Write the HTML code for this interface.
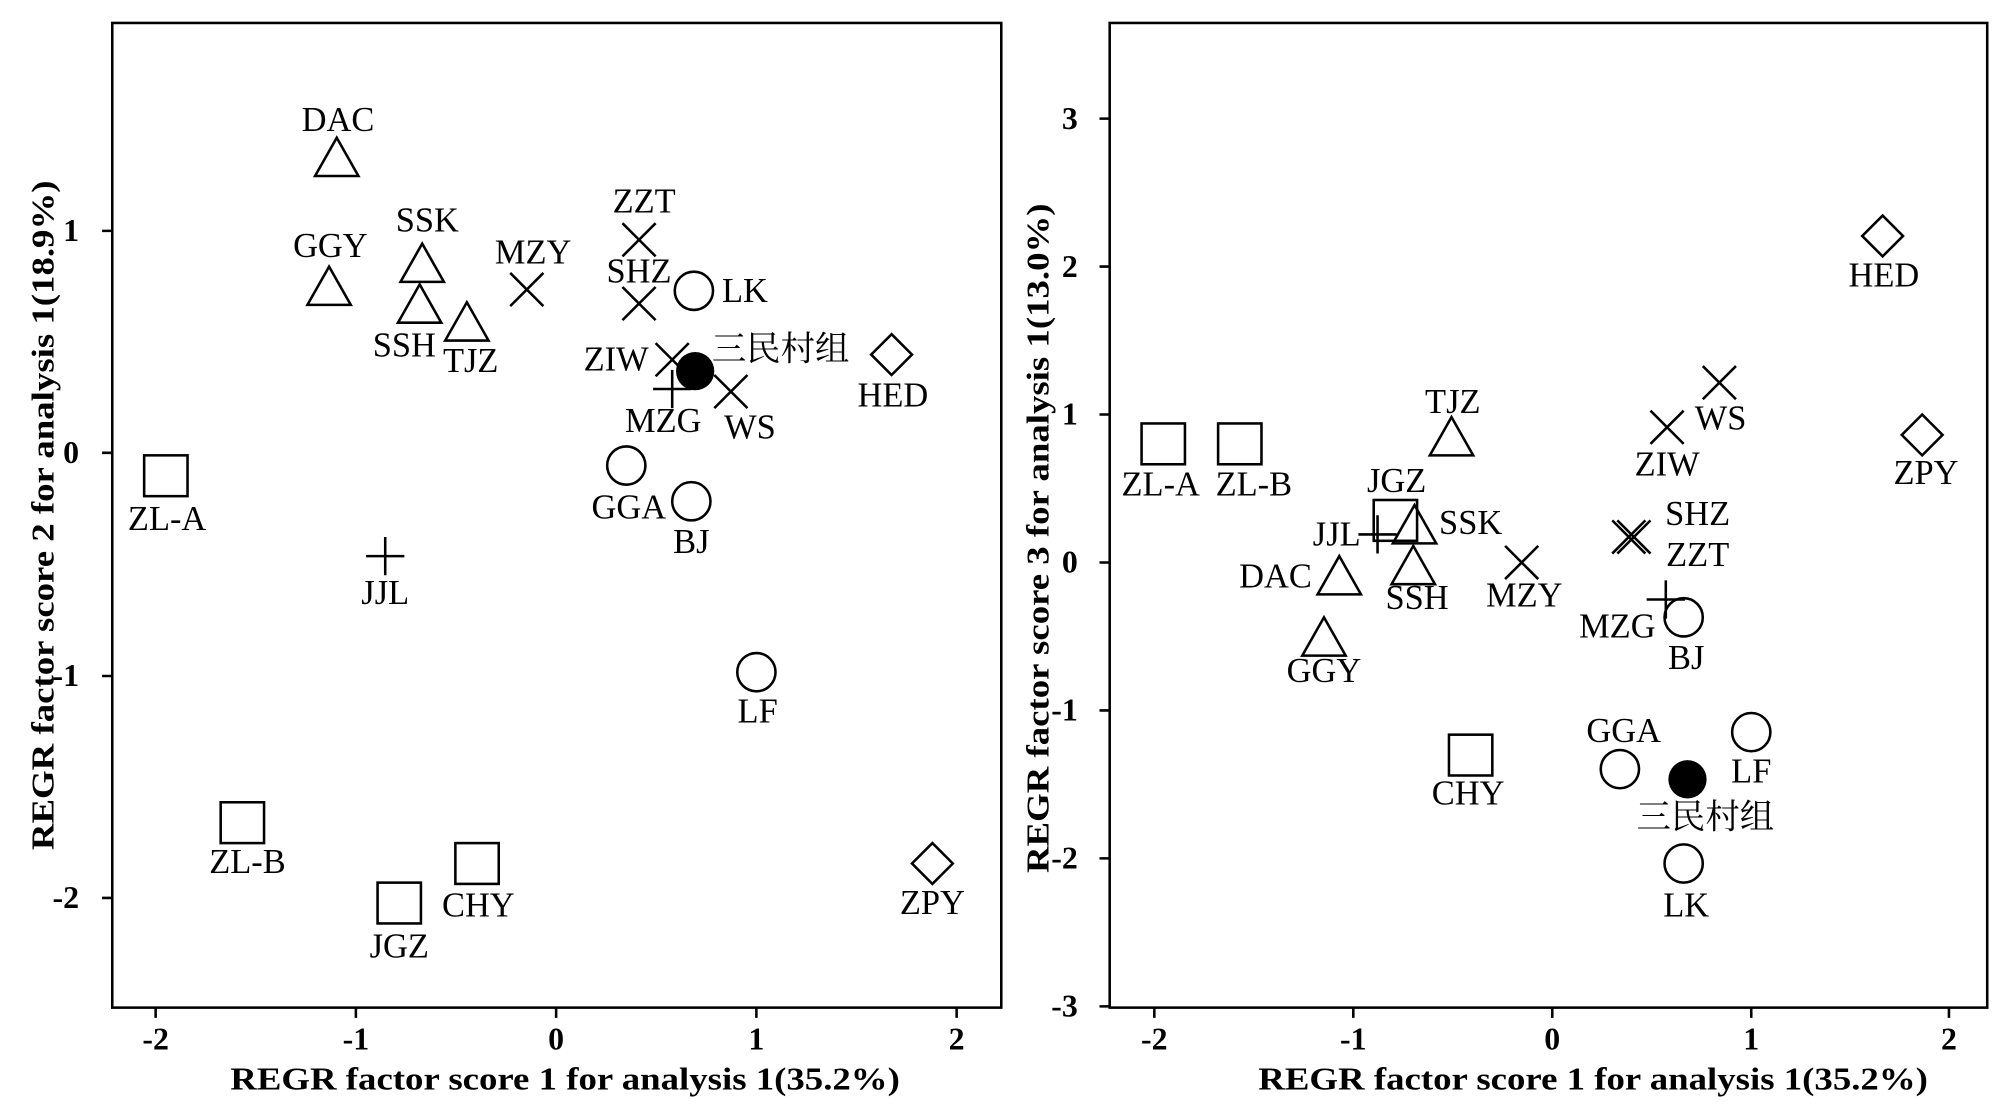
<!DOCTYPE html>
<html><head><meta charset="utf-8"><style>
html,body{margin:0;padding:0;background:#fff;overflow:hidden}
svg{display:block}
text{font-family:"Liberation Serif","Noto Serif CJK SC",serif;fill:#000}
.l{font-size:27px;text-anchor:middle;dominant-baseline:central}
.t{font-size:25px;font-weight:bold;text-anchor:middle}
.ax{font-size:25px;font-weight:bold;text-anchor:middle}
</style></head><body>
<svg width="2000" height="1114" viewBox="0 0 1568 873.4" xmlns="http://www.w3.org/2000/svg">
<defs>
<g id="tri"><polygon points="0,-17 17,13 -17,13" fill="none" stroke="#000" stroke-width="2"/></g>
<g id="sq"><rect x="-17" y="-16" width="34" height="32" fill="none" stroke="#000" stroke-width="2"/></g>
<g id="ci"><circle r="15" fill="none" stroke="#000" stroke-width="2"/></g>
<g id="fc"><circle r="15" fill="#000"/></g>
<g id="x"><path d="M-13,-13L13,13M13,-13L-13,13" stroke="#000" stroke-width="2"/></g>
<g id="pl"><path d="M-15,0H15M0,-15V15" stroke="#000" stroke-width="2"/></g>
<g id="di"><polygon points="0,-16 16,0 0,16 -16,0" fill="none" stroke="#000" stroke-width="2"/></g>
</defs>
<!-- Left panel -->
<rect x="88" y="18" width="697" height="772" fill="none" stroke="#000" stroke-width="2"/>
<g stroke="#000" stroke-width="2">
<path d="M122,790v8M279,790v8M436,790v8M593,790v8M750,790v8"/>
<path d="M88,181h-8M88,355h-8M88,530h-8M88,704h-8"/>
</g>
<text class="t" x="122" y="823">-2</text><text class="t" x="279" y="823">-1</text><text class="t" x="436" y="823">0</text><text class="t" x="593" y="823">1</text><text class="t" x="750" y="823">2</text>
<text class="t" x="62" y="189" style="text-anchor:end">1</text>
<text class="t" x="62" y="363" style="text-anchor:end">0</text>
<text class="t" x="62" y="538" style="text-anchor:end">-1</text>
<text class="t" x="62" y="712" style="text-anchor:end">-2</text>
<text class="ax" x="443" y="854" textLength="525" lengthAdjust="spacingAndGlyphs">REGR factor score 1 for analysis 1(35.2%)</text>
<text class="ax" transform="translate(42,404) rotate(-90)" textLength="525" lengthAdjust="spacingAndGlyphs">REGR factor score 2 for analysis 1(18.9%)</text>

<use href="#tri" x="264" y="125"/><text class="l" x="265" y="94">DAC</text>
<use href="#tri" x="258" y="226"/><text class="l" x="259" y="193">GGY</text>
<use href="#tri" x="331" y="208"/><text class="l" x="335" y="173">SSK</text>
<use href="#tri" x="329" y="240"/><text class="l" x="317" y="271">SSH</text>
<use href="#tri" x="366" y="254"/><text class="l" x="369" y="283">TJZ</text>
<use href="#x" x="413" y="227"/><text class="l" x="418" y="198">MZY</text>
<use href="#x" x="501" y="188"/><text class="l" x="505" y="158">ZZT</text>
<use href="#x" x="501" y="238"/><text class="l" x="501" y="213">SHZ</text>
<use href="#ci" x="544" y="228"/><text class="l" x="584" y="228">LK</text>
<use href="#x" x="527" y="282"/><text class="l" x="483" y="282">ZIW</text>
<use href="#pl" x="527" y="305"/>
<use href="#fc" x="545" y="291"/><text class="l" x="612" y="274">三民村组</text>
<text class="l" x="520" y="330">MZG</text>
<use href="#x" x="573" y="307"/><text class="l" x="588" y="335">WS</text>
<use href="#di" x="699" y="278"/><text class="l" x="700" y="310">HED</text>
<use href="#ci" x="491" y="365"/><text class="l" x="493" y="398">GGA</text>
<use href="#ci" x="542" y="393"/><text class="l" x="542" y="425">BJ</text>
<use href="#sq" x="130" y="373"/><text class="l" x="131" y="407">ZL-A</text>
<use href="#pl" x="302" y="436"/><text class="l" x="302" y="465">JJL</text>
<use href="#ci" x="593" y="527"/><text class="l" x="594" y="558">LF</text>
<use href="#sq" x="190" y="645"/><text class="l" x="194" y="676">ZL-B</text>
<use href="#sq" x="374" y="677"/><text class="l" x="375" y="710">CHY</text>
<use href="#sq" x="313" y="708"/><text class="l" x="313" y="742">JGZ</text>
<use href="#di" x="731" y="677"/><text class="l" x="731" y="708">ZPY</text>

<!-- Right panel -->
<rect x="870" y="18" width="688" height="772" fill="none" stroke="#000" stroke-width="2"/>
<g stroke="#000" stroke-width="2">
<path d="M905,790v8M1061,790v8M1217,790v8M1373,790v8M1528,790v8"/>
<path d="M870,93h-8M870,209h-8M870,325h-8M870,441h-8M870,557h-8M870,673h-8M870,789h-8"/>
</g>
<text class="t" x="905" y="823">-2</text><text class="t" x="1061" y="823">-1</text><text class="t" x="1217" y="823">0</text><text class="t" x="1373" y="823">1</text><text class="t" x="1528" y="823">2</text>
<text class="t" x="845" y="101" style="text-anchor:end">3</text>
<text class="t" x="845" y="217" style="text-anchor:end">2</text>
<text class="t" x="845" y="333" style="text-anchor:end">1</text>
<text class="t" x="845" y="449" style="text-anchor:end">0</text>
<text class="t" x="845" y="565" style="text-anchor:end">-1</text>
<text class="t" x="845" y="681" style="text-anchor:end">-2</text>
<text class="t" x="845" y="797" style="text-anchor:end">-3</text>
<text class="ax" x="1249" y="854" textLength="525" lengthAdjust="spacingAndGlyphs">REGR factor score 1 for analysis 1(35.2%)</text>
<text class="ax" transform="translate(822,422) rotate(-90)" textLength="525" lengthAdjust="spacingAndGlyphs">REGR factor score 3 for analysis 1(13.0%)</text>

<use href="#di" x="1476" y="185"/><text class="l" x="1477" y="216">HED</text>
<use href="#x" x="1348" y="300"/><text class="l" x="1349" y="328">WS</text>
<use href="#x" x="1307" y="335"/><text class="l" x="1307" y="364">ZIW</text>
<use href="#tri" x="1138" y="344"/><text class="l" x="1139" y="315">TJZ</text>
<use href="#sq" x="912" y="348"/><text class="l" x="910" y="380">ZL-A</text>
<use href="#sq" x="972" y="348"/><text class="l" x="983" y="380">ZL-B</text>
<use href="#di" x="1507" y="341"/><text class="l" x="1510" y="371">ZPY</text>
<use href="#sq" x="1094" y="408"/><text class="l" x="1095" y="377">JGZ</text>
<use href="#tri" x="1109" y="413"/><text class="l" x="1153" y="410">SSK</text>
<use href="#pl" x="1080" y="419"/><text class="l" x="1048" y="419">JJL</text>
<use href="#x" x="1277" y="421"/><use href="#x" x="1281" y="421"/>
<text class="l" x="1331" y="403">SHZ</text><text class="l" x="1331" y="435">ZZT</text>
<use href="#tri" x="1108" y="445"/><text class="l" x="1111" y="469">SSH</text>
<use href="#tri" x="1050" y="453"/><text class="l" x="1000" y="452">DAC</text>
<use href="#x" x="1193" y="441"/><text class="l" x="1195" y="467">MZY</text>
<use href="#pl" x="1306" y="470"/><text class="l" x="1268" y="491">MZG</text>
<use href="#ci" x="1320" y="484"/><text class="l" x="1322" y="516">BJ</text>
<use href="#tri" x="1038" y="501"/><text class="l" x="1038" y="526">GGY</text>
<use href="#ci" x="1270" y="603"/><text class="l" x="1273" y="573">GGA</text>
<use href="#fc" x="1323" y="611"/><text class="l" x="1337" y="641">三民村组</text>
<use href="#ci" x="1373" y="574"/><text class="l" x="1373" y="605">LF</text>
<use href="#sq" x="1153" y="592"/><text class="l" x="1151" y="622">CHY</text>
<use href="#ci" x="1320" y="677"/><text class="l" x="1322" y="710">LK</text>
</svg>
</body></html>
